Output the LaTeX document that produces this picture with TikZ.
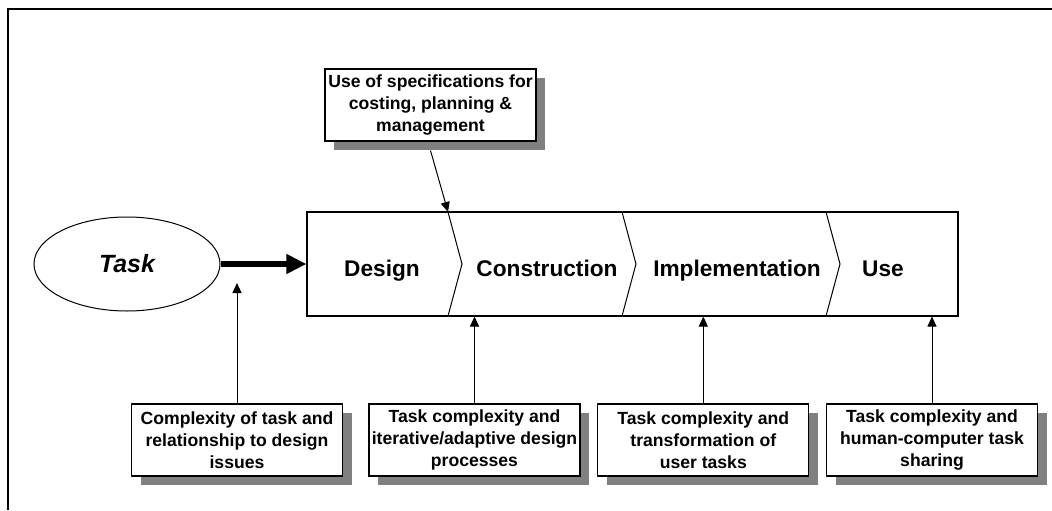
\documentclass[tikz,border=0pt]{standalone}
\usepackage{fontspec}
\setmainfont{Liberation Sans}
\usetikzlibrary{arrows.meta,shapes.geometric,shadows}
\definecolor{shadowgray}{RGB}{128,128,128}
\newcommand{\stageFont}[0]{\fontsize{17}{20}\selectfont\bfseries}
\newcommand{\noteFont}[0]{\fontsize{13.2}{16.3}\selectfont\bfseries}

\begin{document}
\begin{tikzpicture}[x=0.75pt, y=-0.75pt]
  \tikzset{
    note/.style={draw, line width=0.8pt, fill=white, align=center,
      minimum width=158.25pt, minimum height=54pt, inner sep=1pt, font=\noteFont,
      drop shadow={shadow xshift=6.75pt, shadow yshift=-6.75pt, fill=shadowgray, opacity=1}},
    stage/.style={anchor=base, font=\stageFont},
    feed/.style={-{Triangle[length=7.5pt, width=6.75pt]}, line width=0.75pt},
    flow/.style={-{Triangle[length=15pt, width=14pt]}, line width=3.8pt}
  }
  \useasboundingbox (0,0) rectangle (1052,510);
  \draw[line width=1.6pt] (8,510) -- (8,9) -- (1052,9);

  \node[draw, ellipse, line width=0.75pt, minimum width=139.5pt, minimum height=70.5pt,
    inner sep=0pt, font=\fontsize{18.7}{22}\selectfont\bfseries\itshape] (task) at (127,264) {Task};

  \node[draw, line width=0.8pt, minimum width=488.25pt, minimum height=78pt, inner sep=0pt]
    (stages) at (632.5,264) {};
  \foreach \sx in {448,622,826}
    \draw[line width=0.75pt] (\sx,212) -- (\sx+14,264) -- (\sx,316);
  \node[stage] (design) at (382,276) {Design};
  \node[stage] (construction) at (547,276) {Construction};
  \node[stage] (implementation) at (737,276) {Implementation};
  \node[stage] (use) at (883,276) {Use};

  \node[note] (spec) at (430.5,105) {Use of specifications for\\costing, planning \&\\management};
  \node[note] (note-1) at (237,440) {Complexity of task and\\relationship to design\\issues};
  \node[note] (note-2) at (474.5,440) {Task complexity and\\iterative/adaptive design\\processes};
  \node[note] (note-3) at (703.3,440) {Task complexity and\\transformation of\\user tasks};
  \node[note] (note-4) at (932,440) {Task complexity and\\human-computer task\\sharing};

  \draw[flow] (task.east) -- (stages.west);
  \coordinate (spec-foot) at ([yshift=-6.75pt]spec.south);
  \coordinate (sep-1) at (448,212);
  \draw[feed] (spec-foot) -- (sep-1);
  \coordinate (flow-gap) at (237,283);
  \draw[feed] (note-1.north) -- (flow-gap);
  \foreach \n in {2,3,4}
    \draw[feed] (note-\n.north) -- (note-\n.north |- stages.south);
\end{tikzpicture}
\end{document}
